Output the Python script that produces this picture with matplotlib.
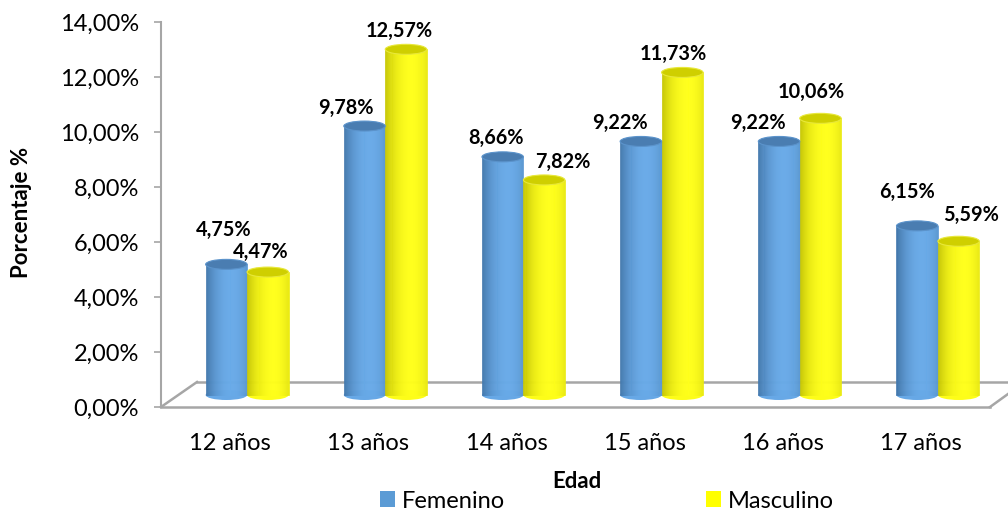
import numpy as np
import matplotlib
matplotlib.use("Agg")
import matplotlib.pyplot as plt
import matplotlib.transforms as mtransforms
from matplotlib.patches import Ellipse, Patch
from matplotlib.lines import Line2D

# data
categories = ["12 años", "13 años", "14 años", "15 años", "16 años", "17 años"]
femenino = [4.75, 9.78, 8.66, 9.22, 9.22, 6.15]
masculino = [4.47, 12.57, 7.82, 11.73, 10.06, 5.59]

# label nudges (pixels) relative to the top of each cylinder
fem_nudge = [(-3, 34), (-19, 18), (-7, 19), (-21, 18), (-21, 18), (-10, 34)]
mas_nudge = [(-7, 20), (-7, 18), (19, 18), (-9, 18), (-9, 26), (12, 26)]

plt.rcParams["font.family"] = ["Lato", "DejaVu Sans"]

W, H = 1008, 513
fig = plt.figure(figsize=(W / 100, H / 100), dpi=100)


def px(x, y):
    # pixel coords (top-left origin) -> figure fraction
    return x / W, 1 - y / H


AX_L, AX_R, AX_T, AX_B = 161, 990, 22, 407
ax = fig.add_axes([AX_L / W, 1 - AX_B / H, (AX_R - AX_L) / W, (AX_B - AX_T) / H])
ax.patch.set_visible(False)
ax.set_xlim(-0.5, len(categories) - 0.5)
ax.set_ylim(0, 14)

for s in ["top", "right", "bottom"]:
    ax.spines[s].set_visible(False)
ax.spines["left"].set_color("#A6A6A6")
ax.spines["left"].set_linewidth(1.5)

yt = np.arange(0, 15, 2)
ax.set_yticks(yt)
ax.set_yticklabels([f"{v:.2f}%".replace(".", ",") for v in yt])
ax.tick_params(axis="y", length=5, width=1.2, color="#A6A6A6", pad=11,
               labelsize=17, labelcolor="#000000")
ax.set_xticks(range(len(categories)))
ax.set_xticklabels(categories)
ax.tick_params(axis="x", length=0, pad=19, labelsize=17)

# floor of the 3d box
floor_col = "#A6A6A6"
floor = [
    [(AX_L, AX_B), (AX_R, AX_B)],
    [(AX_L, AX_B), (197, 382)],
    [(197, 382), (1010, 382)],
    [(AX_R, AX_B), (1008, 394)],
]
for (x0, y0), (x1, y1) in floor:
    a, b = px(x0, y0)
    c, d = px(x1, y1)
    ax.add_line(Line2D([a, c], [b, d], transform=fig.transFigure,
                       color=floor_col, lw=1.8, clip_on=False, zorder=0.5))

# bars sit in the middle of the box depth
trans = ax.transData + mtransforms.ScaledTranslation(0.17, 0.12, fig.dpi_scale_trans)

bw = 0.30
cap_h = 10 / 27.5
n_strips = 40


def shade(dark, light, t):
    w = np.clip(1 - ((t - 0.62) / 0.66) ** 2, 0, 1)
    dark = np.array(matplotlib.colors.to_rgb(dark))
    light = np.array(matplotlib.colors.to_rgb(light))
    return [tuple(dark + (light - dark) * k) for k in w]


def cylinders(xc, vals, dark, light, cap, cap_edge):
    t = (np.arange(n_strips) + 0.5) / n_strips
    cols = shade(dark, light, t)
    sw = bw / n_strips
    for x, v in zip(xc, vals):
        ax.add_patch(Ellipse((x, 0), bw, cap_h, transform=trans,
                             facecolor=cols[n_strips // 2], edgecolor="none", zorder=2))
        xs = x - bw / 2 + (np.arange(n_strips) + 0.5) * sw
        ax.bar(xs, [v] * n_strips, width=sw, color=cols, edgecolor=cols,
               linewidth=0.5, transform=trans, zorder=3)
        ax.add_patch(Ellipse((x, v), bw, cap_h, transform=trans,
                             facecolor=cap, edgecolor=cap_edge, lw=0.8, zorder=4))


x = np.arange(len(categories))
xf = x - bw / 2
xm = x + bw / 2
cylinders(xf, femenino, "#3D70A3", "#68AAE8", "#4A7DB1", "#5B93CB")
cylinders(xm, masculino, "#BDBD00", "#FFFF1A", "#CFCF00", "#E8E83A")

lab_kw = dict(xycoords=trans, textcoords="offset pixels", ha="center",
              va="center", fontsize=14.3, fontweight="bold", zorder=6)
for xi, v, (dx, dy) in zip(xf, femenino, fem_nudge):
    ax.annotate(f"{v:.2f}%".replace(".", ","), (xi, v), xytext=(dx, dy), **lab_kw)
for xi, v, (dx, dy) in zip(xm, masculino, mas_nudge):
    ax.annotate(f"{v:.2f}%".replace(".", ","), (xi, v), xytext=(dx, dy), **lab_kw)

fig.text(*px(22, 212), "Porcentaje %", rotation=90, ha="center", va="center",
         fontsize=16, fontweight="bold")
fig.text(*px(577, 482), "Edad", ha="center", va="center",
         fontsize=16, fontweight="bold")

handles = [Patch(facecolor="#5B9BD5", edgecolor="none", label="Femenino"),
           Patch(facecolor="#FFFF00", edgecolor="none", label="Masculino")]
fig.legend(handles=handles, loc="center left", bbox_to_anchor=px(380, 501),
           ncol=2, frameon=False, fontsize=17, handlelength=0.64,
           handleheight=0.64, handletextpad=0.3, columnspacing=8.5,
           borderpad=0, borderaxespad=0)

fig.savefig("out.png", dpi=100, facecolor="white")
